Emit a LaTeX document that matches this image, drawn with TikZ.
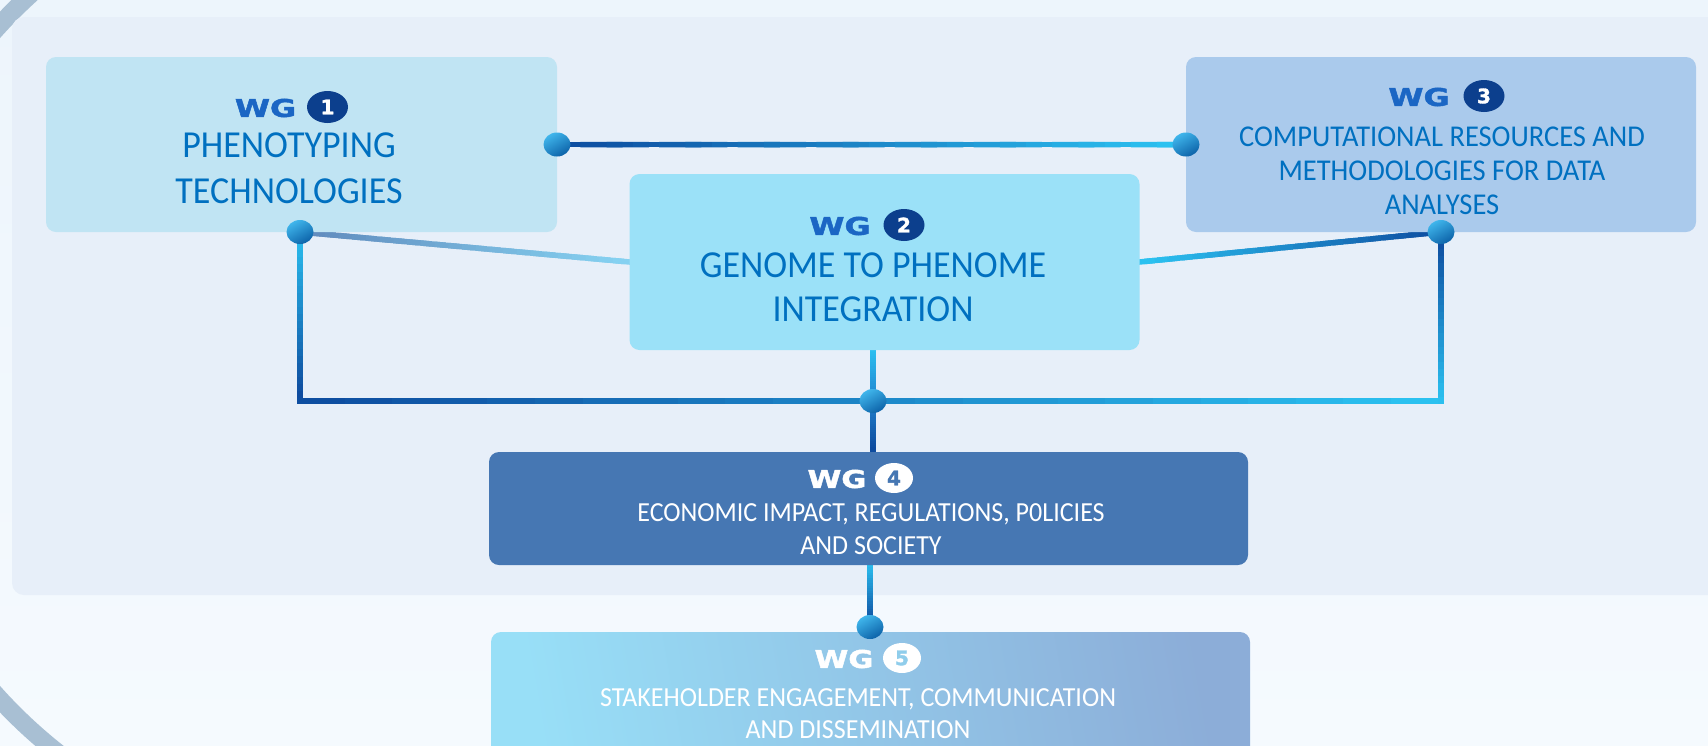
\documentclass[tikz,border=0pt]{standalone}
\usepackage{fontspec}
\setmainfont{Carlito}
\newfontfamily\hfont{DejaVu Sans}[BoldFeatures={FakeBold=1.6}]
\usepackage{graphicx}
\usetikzlibrary{shapes.geometric,calc}
\definecolor{bgtop}{HTML}{EDF5FC}
\definecolor{bgbot}{HTML}{F5FAFE}
\definecolor{panel}{HTML}{E7EFF9}
\definecolor{ring}{HTML}{A8BFD3}
\definecolor{boxA}{HTML}{C0E4F3}
\definecolor{boxB}{HTML}{9BE1F8}
\definecolor{boxC}{HTML}{AACAEC}
\definecolor{boxD}{HTML}{4677B3}
\definecolor{boxEl}{HTML}{98DFF7}
\definecolor{boxEr}{HTML}{8CADD8}
\definecolor{txt}{HTML}{0070C0}
\definecolor{wgblue}{HTML}{1B66C4}
\definecolor{navy}{HTML}{0C3F8D}
\definecolor{ldark}{HTML}{0D4A9E}
\definecolor{lcyan}{HTML}{2CC3F2}
\definecolor{lgrey}{HTML}{5F88BB}
\definecolor{llight}{HTML}{86D3F2}
\definecolor{lmid}{HTML}{2185D0}
\definecolor{dotlight}{HTML}{40B6EC}
\definecolor{dotdark}{HTML}{0C62A8}
\definecolor{num5}{HTML}{8FCDEB}
\pgfdeclarelayer{bg}
\pgfdeclarelayer{lines}
\pgfsetlayers{bg,lines,main}
\newcommand{\gradline}[4]{%
  \foreach \k in {0,...,23}{%
    \pgfmathsetmacro{\ta}{\k/24}%
    \pgfmathsetmacro{\tb}{min((\k+1.4)/24,1)}%
    \pgfmathtruncatemacro{\pc}{100-(\k+0.5)*100/24}%
    \draw[line width=5.5pt, line cap=rect, color=#3!\pc!#4] ($(#1)!\ta!(#2)$) -- ($(#1)!\tb!(#2)$);
  }}
\newcommand{\tall}[1]{\scalebox{1}[1.06]{#1}}
\begin{document}
\begin{tikzpicture}[x=1pt,y=-1pt,
  box/.style={rectangle, rounded corners=10pt, inner sep=0pt, outer sep=0pt},
  body/.style={align=center, text=txt, inner sep=0pt},
  wg/.style={font=\hfont\bfseries\fontsize{24.5}{24.5}\selectfont, text=wgblue, inner sep=0pt},
  num/.style={ellipse, fill=navy, text=white, minimum width=41pt, minimum height=32pt, inner sep=0pt, font=\hfont\bfseries\fontsize{20}{20}\selectfont},
  dot/.style={ellipse, minimum width=27pt, minimum height=24pt, inner sep=0pt, top color=dotlight, bottom color=dotdark, shading angle=30},
]
\clip (0,0) rectangle (1708,745);
\begin{pgfonlayer}{bg}
\shade[top color=bgtop, bottom color=bgbot] (0,0) rectangle (1708,745);
\begin{scope}
\clip (0,0) rectangle (160,745);
\draw[ring, line width=18pt] (365,362) circle (497pt);
\end{scope}
\fill[panel, rounded corners=12pt] (12,17) rectangle (1730,595);
\end{pgfonlayer}

% boxes
\node[box, fill=boxA, minimum width=511pt, minimum height=175pt] (b1) at (301.5,144.5) {};
\node[box, fill=boxB, minimum width=510pt, minimum height=176pt] (b2) at (884.5,262) {};
\node[box, fill=boxC, minimum width=510pt, minimum height=175pt] (b3) at (1441,144.5) {};
\node[box, fill=boxD, minimum width=759pt, minimum height=113pt] (b4) at (868.5,508.5) {};
\node[box, left color=boxEl, right color=boxEr, shading angle=100, minimum width=759pt, minimum height=150pt] (b5) at (870.5,707) {};

% dots
\node[dot] (d1r) at (b1.east) {};
\node[dot] (d3l) at (b3.west) {};
\node[dot] (d1b) at (300,232) {};
\node[dot] (d3b) at (b3.south) {};
\node[dot] (dc) at (873,401) {};
\node[dot] (d5) at (870,627) {};
\coordinate (jl) at (d1b |- dc);
\coordinate (jr) at (d3b |- dc);
\coordinate (b2s) at (dc |- b2.south);
\coordinate (b4n) at (dc |- b4.north);
\coordinate (b4s) at (d5 |- b4.south);

\begin{pgfonlayer}{lines}
\gradline{d1r.center}{d3l.center}{ldark}{lcyan}
\gradline{d1b.center}{b2.west}{lgrey}{llight}
\gradline{d1b.center}{jl}{lcyan}{ldark}
\gradline{jl}{jr}{ldark}{lcyan}
\gradline{jr}{d3b.center}{lcyan}{ldark}
\gradline{d3b.center}{b2.east}{ldark}{lcyan}
\gradline{b2s}{dc.center}{lcyan}{lmid}
\gradline{dc.center}{b4n}{lmid}{ldark}
\gradline{b4s}{d5.center}{lcyan}{ldark}
\end{pgfonlayer}

% headers
\node[wg] (w1) at (265.5,108) {\scalebox{1.3}[1]{WG}};
\node[num] (n1) at (327.5,107) {1};
\node[wg] (w2) at (840,226) {\scalebox{1.3}[1]{WG}};
\node[num] (n2) at (904,225) {2};
\node[wg] (w3) at (1419,97) {\scalebox{1.3}[1]{WG}};
\node[num] (n3) at (1484,96) {3};
\node[wg, text=white] (w4) at (837,479) {\scalebox{1.25}[1]{WG}};
\node[num, fill=white, text=boxD, minimum width=38pt, minimum height=30pt] (n4) at (894,478) {4};
\node[wg, text=white] (w5) at (844,659) {\scalebox{1.25}[1]{WG}};
\node[num, fill=white, text=num5, minimum width=38pt, minimum height=30pt] (n5) at (902,658) {5};

% texts
\node[body, font=\fontsize{36}{46}\selectfont] (t1) at (289,168) {\tall{PHENOTYPING}\\\tall{TECHNOLOGIES}};
\node[body, font=\fontsize{36}{44}\selectfont] (t2) at (873,287) {\tall{GENOME TO PHENOME}\\\tall{INTEGRATION}};
\node[body, font=\fontsize{28.5}{34}\selectfont] (t3) at (1442,171) {\tall{COMPUTATIONAL RESOURCES AND}\\\tall{METHODOLOGIES FOR DATA}\\\tall{ANALYSES}};
\node[body, text=white, font=\fontsize{26}{33}\selectfont] (t4) at (871,529.5) {\tall{ECONOMIC IMPACT, REGULATIONS, P0LICIES}\\\tall{AND SOCIETY}};
\node[body, text=white, font=\fontsize{26}{32}\selectfont] (t5) at (858,714) {\tall{STAKEHOLDER ENGAGEMENT, COMMUNICATION}\\\tall{AND DISSEMINATION}};
\end{tikzpicture}
\end{document}
